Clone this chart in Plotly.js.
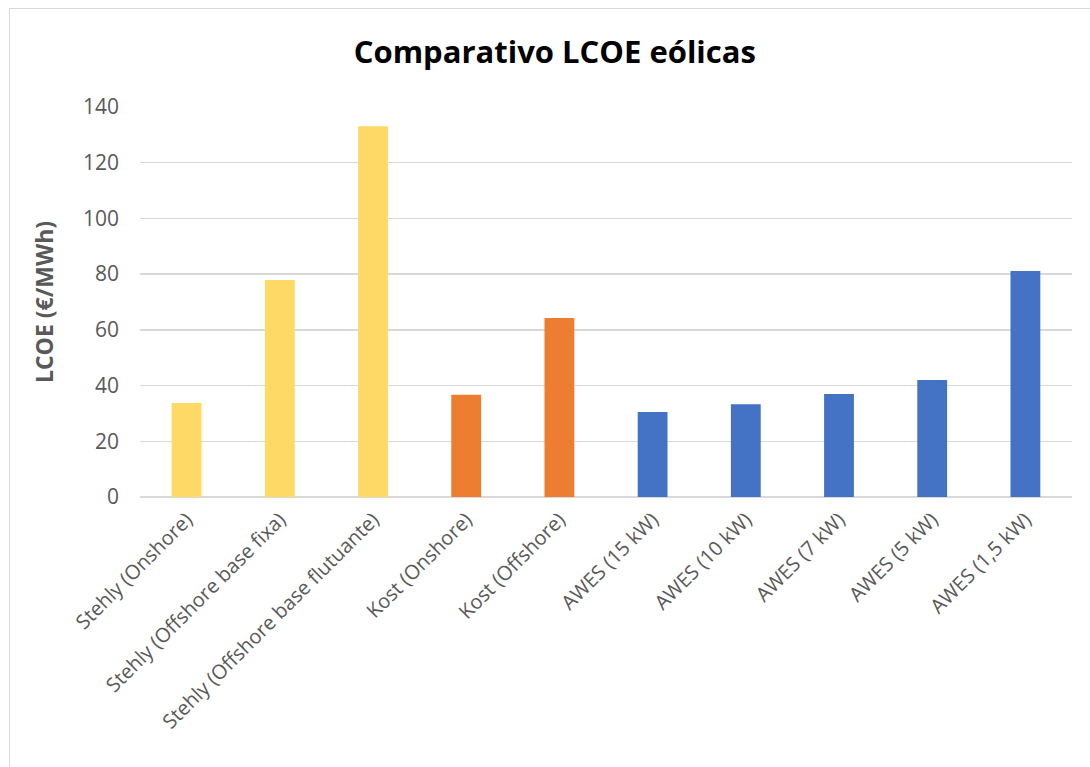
<!DOCTYPE html>
<html>
<head>
<meta charset="utf-8">
<script src="https://cdn.plot.ly/plotly-3.0.1.min.js"></script>
<style>
  html, body { margin: 0; padding: 0; background: #fff; }
  #wrap { position: relative; width: 1090px; height: 767px; overflow: hidden; }
  #chart { position: absolute; left: 0; top: 0; width: 1090px; height: 767px; }
  #frame { position: absolute; left: 9px; top: 8px; width: 1100px; height: 800px; border: 1px solid #d9d9d9; box-sizing: border-box; pointer-events: none; }
</style>
</head>
<body>
<div id="wrap">
  <div id="chart"></div>
  <div id="frame"></div>
</div>
<script>
const categories = [
  "Stehly (Onshore)",
  "Stehly (Offshore base fixa)",
  "Stehly (Offshore base flutuante)",
  "Kost (Onshore)",
  "Kost (Offshore)",
  "AWES (15 kW)",
  "AWES (10 kW)",
  "AWES (7 kW)",
  "AWES (5 kW)",
  "AWES (1,5 kW)"
];
const lcoeValues = [33.7, 77.9, 133.1, 36.7, 64.3, 30.5, 33.3, 37.0, 42.0, 81.1];
const barColors = ["#FFD966", "#FFD966", "#FFD966", "#ED7D31", "#ED7D31",
                   "#4472C4", "#4472C4", "#4472C4", "#4472C4", "#4472C4"];
const yTicks = [0, 20, 40, 60, 80, 100, 120, 140];

const trace = {
  type: "bar",
  x: categories,
  y: lcoeValues,
  marker: { color: barColors, line: { width: 0 } },
  hoverinfo: "x+y"
};

const font = "Open Sans, Noto Sans, sans-serif";
const layout = {
  width: 1090,
  height: 767,
  margin: { l: 140, r: 18, t: 107, b: 270, pad: 0 },
  paper_bgcolor: "#ffffff",
  plot_bgcolor: "#ffffff",
  showlegend: false,
  bargap: 0.68,
  title: {
    text: "<b>Comparativo LCOE eólicas</b>",
    font: { family: font, size: 31, color: "#000000" },
    x: 0.509, xanchor: "center",
    y: 0.932, yanchor: "middle"
  },
  xaxis: {
    type: "category",
    automargin: false,
    tickangle: -45,
    tickfont: { family: font, size: 20, color: "#595959" },
    ticklabelstandoff: 6,
    showgrid: false,
    showline: false,
    ticks: "",
    zeroline: false
  },
  yaxis: {
    automargin: false,
    range: [0, 140],
    tickvals: yTicks,
    ticktext: yTicks.map(String),
    tickfont: { family: font, size: 21, color: "#595959" },
    ticks: "",
    ticklabelstandoff: 20,
    showline: false,
    gridcolor: "#d9d9d9",
    gridwidth: 1.3,
    zeroline: true,
    zerolinecolor: "#d9d9d9",
    zerolinewidth: 1.3,
    title: {
      text: "<b>LCOE (€/MWh)</b>",
      font: { family: font, size: 23, color: "#595959" },
      standoff: 22
    }
  }
};

Plotly.newPlot("chart", [trace], layout, { displayModeBar: false, staticPlot: true });
</script>
</body>
</html>
